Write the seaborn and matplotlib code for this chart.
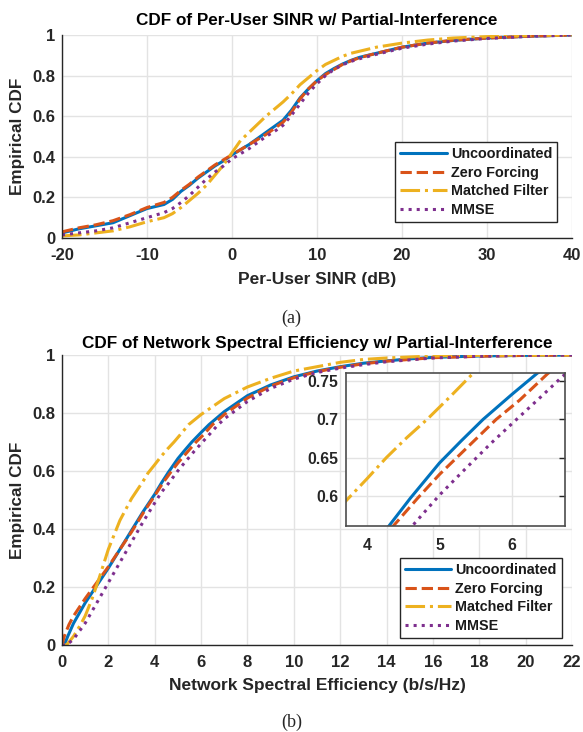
import numpy as np
import pandas as pd
import matplotlib
matplotlib.use("Agg")
import matplotlib.pyplot as plt
import seaborn as sns

# ---------------- data ----------------
series_names = ["Uncoordinated", "Zero Forcing", "Matched Filter", "MMSE"]

# (a) Per-user SINR CDF
sinr_unc_x = [-20,-18,-16,-14,-12,-10,-8,-7,-6,-5,-4,-3,-2,-1,0,1,2,3,4,5,6,7,8,9,10,11,12,13,14,15,17,20,23,26,30,35,40]
sinr_unc_y = [0.025,0.045,0.06,0.075,0.11,0.145,0.165,0.19,0.23,0.26,0.295,0.325,0.355,0.38,0.41,0.435,0.46,0.49,0.52,0.55,0.58,0.63,0.69,0.735,0.775,0.81,0.835,0.857,0.875,0.89,0.91,0.94,0.96,0.973,0.985,0.994,1.0]
sinr_zf_x = sinr_unc_x
sinr_zf_y = [0.03,0.05,0.065,0.085,0.115,0.15,0.175,0.2,0.235,0.265,0.3,0.33,0.36,0.385,0.41,0.435,0.46,0.485,0.51,0.54,0.57,0.62,0.685,0.735,0.775,0.805,0.83,0.855,0.873,0.888,0.91,0.94,0.96,0.974,0.985,0.994,1.0]
sinr_mf_x = sinr_unc_x
sinr_mf_y = [0.01,0.015,0.025,0.035,0.055,0.08,0.1,0.12,0.15,0.185,0.22,0.26,0.31,0.36,0.42,0.48,0.52,0.56,0.6,0.635,0.67,0.71,0.755,0.79,0.825,0.855,0.875,0.895,0.91,0.92,0.94,0.96,0.975,0.985,0.992,0.997,1.0]
sinr_mmse_x = sinr_unc_x
sinr_mmse_y = [0.015,0.025,0.035,0.05,0.075,0.1,0.125,0.145,0.175,0.21,0.25,0.29,0.325,0.355,0.39,0.415,0.44,0.47,0.5,0.525,0.555,0.605,0.66,0.715,0.76,0.8,0.83,0.853,0.87,0.883,0.905,0.935,0.955,0.97,0.983,0.993,1.0]

# (b) Network spectral efficiency CDF
se_unc_x = [0,0.1,0.25,0.5,0.75,1,1.5,2,2.5,3,3.5,4,4.3,4.6,5,5.3,5.6,6,6.34,7,8,9,10,11,12,13,14,15,16,18,20,22]
se_unc_y = [0,0.0,0.03,0.075,0.11,0.145,0.205,0.265,0.33,0.395,0.46,0.52,0.56,0.597,0.643,0.672,0.70,0.733,0.76,0.805,0.86,0.897,0.925,0.945,0.96,0.972,0.98,0.987,0.992,0.997,0.999,1.0]
se_zf_x = [0,0.1,0.3,0.5,1,1.5,2,2.5,3,3.5,4,4.36,4.7,5,5.4,5.78,6.1,6.49,7,8,9,10,11,12,13,14,16,18,20,22]
se_zf_y = [0,0.03,0.07,0.1,0.16,0.215,0.27,0.33,0.39,0.455,0.515,0.56,0.597,0.628,0.665,0.70,0.725,0.76,0.795,0.852,0.893,0.922,0.943,0.958,0.97,0.979,0.991,0.996,0.999,1.0]
se_mf_x = [0,0.2,0.5,0.8,1,1.3,1.6,2,2.5,3,3.5,3.71,4,4.27,4.55,4.83,5.15,5.46,6,7,8,9,10,11,12,13,14,16,18,22]
se_mf_y = [0,0.0,0.03,0.07,0.1,0.16,0.23,0.33,0.43,0.505,0.565,0.593,0.622,0.65,0.676,0.70,0.73,0.76,0.795,0.85,0.89,0.92,0.945,0.96,0.975,0.985,0.99,0.997,0.999,1.0]
se_mmse_x = [0,0.2,0.5,1,1.5,2,2.5,3,3.5,4,4.3,4.62,5,5.3,5.7,6.06,6.4,6.69,7,8,9,10,11,12,13,14,16,18,20,22]
se_mmse_y = [0,0.0,0.02,0.075,0.145,0.215,0.285,0.355,0.425,0.49,0.528,0.56,0.601,0.63,0.668,0.70,0.73,0.756,0.78,0.84,0.885,0.917,0.94,0.955,0.967,0.977,0.99,0.996,0.999,1.0]

sinr_xticks = [-20, -10, 0, 10, 20, 30, 40]
se_xticks = list(range(0, 23, 2))
cdf_yticks = [0, 0.2, 0.4, 0.6, 0.8, 1]
cdf_yticklabels = ["0", "0.2", "0.4", "0.6", "0.8", "1"]
inset_xticks = [4, 5, 6]
inset_yticks = [0.6, 0.65, 0.7, 0.75]
inset_yticklabels = ["0.6", "0.65", "0.7", "0.75"]

# ---------------- style ----------------
sns.set_style("whitegrid")
plt.rcParams["font.family"] = ["Liberation Sans", "DejaVu Sans"]
plt.rcParams["font.weight"] = "bold"
plt.rcParams["axes.unicode_minus"] = False

colors = ["#0072BD", "#D95319", "#EDB120", "#7E2F8E"]
styles = ["-", "--", "-.", ":"]
LW = 2.2
AXC = "#262626"
GRIDC = "#e3e3e3"


def style_axes(ax, full_box=False, fs=12, xpad=7, ypad=5):
    ax.set_facecolor("white")
    ax.grid(True, color=GRIDC, linewidth=1.0)
    for side in ["top", "right"]:
        ax.spines[side].set_visible(full_box)
        ax.spines[side].set_color(AXC)
    for side in ["left", "bottom"]:
        ax.spines[side].set_color(AXC)
        ax.spines[side].set_linewidth(1.0)
    ax.tick_params(direction="in", length=4, width=1, colors=AXC,
                   labelsize=fs, labelcolor=AXC,
                   right=full_box, top=False)
    ax.tick_params(axis="x", pad=xpad)
    ax.tick_params(axis="y", pad=ypad)
    for lab in ax.get_xticklabels() + ax.get_yticklabels():
        lab.set_fontweight("bold")


def draw(ax, xs, ys):
    for name, x, y, c, ls in zip(series_names, xs, ys, colors, styles):
        df = pd.DataFrame({"x": x, "y": y})
        sns.lineplot(data=df, x="x", y="y", ax=ax, color=c, linestyle=ls,
                     linewidth=LW, label=name, sort=False, legend=False)


def make_legend(ax, anchor):
    leg = ax.legend(loc="lower right", bbox_to_anchor=anchor, fontsize=10.4,
                    handlelength=3.2, frameon=True, fancybox=False, framealpha=1,
                    edgecolor=AXC, borderpad=0.35, labelspacing=0.32,
                    handletextpad=0.3, borderaxespad=0)
    leg.get_frame().set_linewidth(1.0)
    for t in leg.get_texts():
        t.set_fontweight("bold")
        t.set_color("#1a1a1a")
    return leg


fig = plt.figure(figsize=(5.83, 7.32), dpi=100)

# ---- (a) ----
ax1 = fig.add_axes([0.1063, 0.6749, 0.875, 0.2773])
draw(ax1, [sinr_unc_x, sinr_zf_x, sinr_mf_x, sinr_mmse_x],
     [sinr_unc_y, sinr_zf_y, sinr_mf_y, sinr_mmse_y])
ax1.set_xlim(-20, 40)
ax1.set_ylim(0, 1)
ax1.set_xticks(sinr_xticks)
ax1.set_yticks(cdf_yticks)
ax1.set_yticklabels(cdf_yticklabels)
style_axes(ax1)
ax1.set_title("CDF of Per-User SINR w/ Partial-Interference", fontsize=12.3,
              fontweight="bold", color="black", pad=7)
ax1.set_xlabel("Per-User SINR (dB)", fontsize=12.5, fontweight="bold", color=AXC, labelpad=7)
ax1.set_ylabel("Empirical CDF", fontsize=12.3, fontweight="bold", color=AXC, labelpad=5)
make_legend(ax1, (0.971, 0.079))

fig.text(0.5, 1 - 318 / 732, "(a)", ha="center", va="center",
         fontsize=13, family="Liberation Serif", fontweight="normal")

# ---- (b) ----
ax2 = fig.add_axes([0.1063, 0.1189, 0.875, 0.396])
se_xs = [se_unc_x, se_zf_x, se_mf_x, se_mmse_x]
se_ys = [se_unc_y, se_zf_y, se_mf_y, se_mmse_y]
draw(ax2, se_xs, se_ys)
ax2.set_xlim(0, 22)
ax2.set_ylim(0, 1)
ax2.set_xticks(se_xticks)
ax2.set_yticks(cdf_yticks)
ax2.set_yticklabels(cdf_yticklabels)
style_axes(ax2)
ax2.set_title("CDF of Network Spectral Efficiency w/ Partial-Interference", fontsize=12.3,
              fontweight="bold", color="black", pad=5)
ax2.set_xlabel("Network Spectral Efficiency (b/s/Hz)", fontsize=12.5, fontweight="bold",
               color=AXC, labelpad=6)
ax2.set_ylabel("Empirical CDF", fontsize=12.3, fontweight="bold", color=AXC, labelpad=5)
make_legend(ax2, (0.98, 0.024))

# inset
axi = fig.add_axes([0.5928, 0.2818, 0.3756, 0.209])
draw(axi, se_xs, se_ys)
axi.set_xlim(3.71, 6.72)
axi.set_ylim(0.561, 0.761)
axi.set_xticks(inset_xticks)
axi.set_yticks(inset_yticks)
axi.set_yticklabels(inset_yticklabels)
style_axes(axi, full_box=True, fs=11.3, xpad=9, ypad=5)
axi.set_xlabel("")
axi.set_ylabel("")
for s in axi.spines.values():
    s.set_color("#4d4d4d")
    s.set_linewidth(1.2)

fig.text(0.5, 1 - 722 / 732, "(b)", ha="center", va="center",
         fontsize=13, family="Liberation Serif", fontweight="normal")

fig.savefig("out.png", dpi=100)
